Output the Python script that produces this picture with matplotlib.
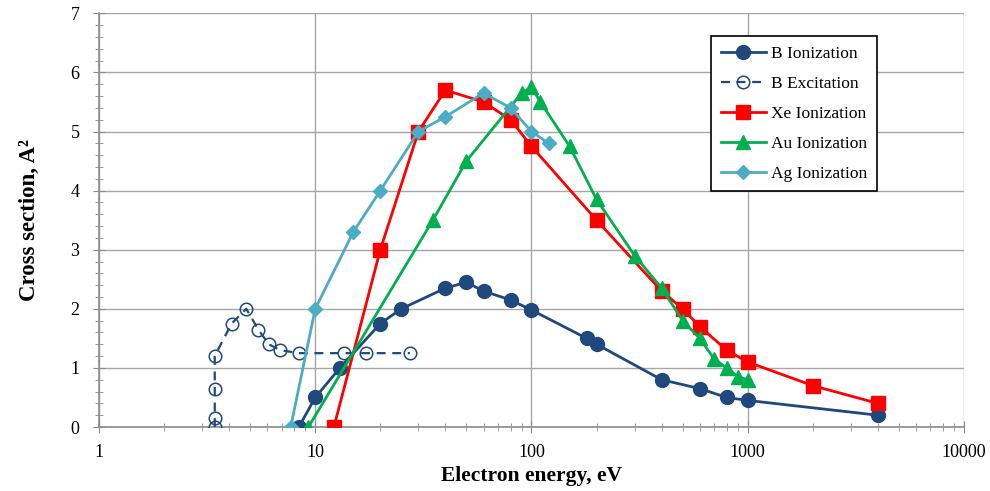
import matplotlib
matplotlib.use("Agg")
import matplotlib.pyplot as plt
from matplotlib.ticker import LogLocator, MultipleLocator, FixedLocator, FixedFormatter

plt.rcParams['font.family'] = ['Liberation Serif', 'DejaVu Serif']

# B ionization
b_ion_e = [8.4, 10, 13, 20, 25, 40, 50, 60, 80, 100, 180, 200, 400, 600, 800, 1000, 4000]
b_ion_s = [0.0, 0.5, 1.0, 1.75, 2.0, 2.35, 2.45, 2.3, 2.15, 1.98, 1.5, 1.4, 0.8, 0.65, 0.5, 0.45, 0.2]

# B excitation
b_exc_e = [3.43, 3.43, 3.43, 3.43, 4.1, 4.8, 5.45, 6.1, 6.9, 8.4, 13.6, 17.2, 27.4]
b_exc_s = [0.0, 0.15, 0.65, 1.2, 1.75, 2.0, 1.65, 1.4, 1.3, 1.25, 1.25, 1.25, 1.25]

# Xe ionization
xe_e = [12.2, 20, 30, 40, 60, 80, 100, 200, 400, 500, 600, 800, 1000, 2000, 4000]
xe_s = [0.0, 3.0, 5.0, 5.7, 5.5, 5.2, 4.75, 3.5, 2.3, 2.0, 1.7, 1.3, 1.1, 0.7, 0.4]

# Au ionization
au_e = [9.3, 35, 50, 90, 100, 110, 150, 200, 300, 400, 500, 600, 700, 800, 900, 1000]
au_s = [0.0, 3.5, 4.5, 5.65, 5.75, 5.5, 4.75, 3.85, 2.9, 2.35, 1.8, 1.5, 1.15, 1.0, 0.85, 0.8]

# Ag ionization
ag_e = [7.7, 10, 15, 20, 30, 40, 60, 80, 100, 120]
ag_s = [0.0, 2.0, 3.3, 4.0, 5.0, 5.25, 5.65, 5.4, 5.0, 4.8]

x_ticks = [1, 10, 100, 1000, 10000]
x_tick_labels = ['1', '10', '100', '1000', '10000']

navy = '#1F497D'
red = '#FF0000'
green = '#00B050'
teal = '#4BACC6'

fig = plt.figure(figsize=(9.9, 4.91), dpi=100)
ax = fig.add_axes([0.1, 0.1303, 0.8737, 0.8426])

ax.plot(b_ion_e, b_ion_s, color=navy, lw=2, marker='o', ms=10, label='B Ionization', zorder=3)
ax.plot(b_exc_e, b_exc_s, color=navy, lw=1.6, ls=(0, (4, 3)), marker='o', ms=9,
        mfc='none', mec=navy, mew=1.1, label='B Excitation', zorder=3)
ax.plot(xe_e, xe_s, color=red, lw=2, marker='s', ms=10, label='Xe Ionization', zorder=3)
ax.plot(au_e, au_s, color=green, lw=2, marker='^', ms=10, label='Au Ionization', zorder=3)
ax.plot(ag_e, ag_s, color=teal, lw=2, marker='D', ms=7, label='Ag Ionization', zorder=3)

ax.set_xscale('log')
ax.set_xlim(1, 10000)
ax.set_ylim(0, 7)
ax.xaxis.set_major_locator(FixedLocator(x_ticks))
ax.xaxis.set_major_formatter(FixedFormatter(x_tick_labels))
ax.xaxis.set_minor_locator(LogLocator(base=10, subs=range(2, 10), numticks=20))
ax.yaxis.set_major_locator(MultipleLocator(1))
ax.yaxis.set_minor_locator(MultipleLocator(0.2))

ax.grid(True, which='major', color='#A6A6A6', lw=1)
ax.set_axisbelow(True)
for s in ['top', 'right']:
    ax.spines[s].set_visible(False)
for s in ['left', 'bottom']:
    ax.spines[s].set_color('#8C8C8C')
    ax.spines[s].set_linewidth(1.2)

ax.tick_params(which='both', direction='inout', color='#8C8C8C', labelsize=13)
ax.tick_params(which='major', length=8)
ax.tick_params(which='minor', length=6)
ax.tick_params(axis='x', pad=8)
ax.tick_params(axis='y', pad=10)

ax.set_xlabel('Electron energy, eV', fontsize=15.5, fontweight='bold', labelpad=4)
ax.set_ylabel('Cross section, A\u00b2', fontsize=16.5, fontweight='bold', labelpad=22)

leg = ax.legend(loc='upper left', bbox_to_anchor=(0.7075, 0.945), fontsize=12.5,
                frameon=True, fancybox=False, edgecolor='black', framealpha=1,
                handlelength=2.6, handletextpad=0.3, labelspacing=0.8,
                borderpad=0.55, borderaxespad=0)
leg.get_frame().set_linewidth(1.2)

fig.savefig('out.png', dpi=100)
